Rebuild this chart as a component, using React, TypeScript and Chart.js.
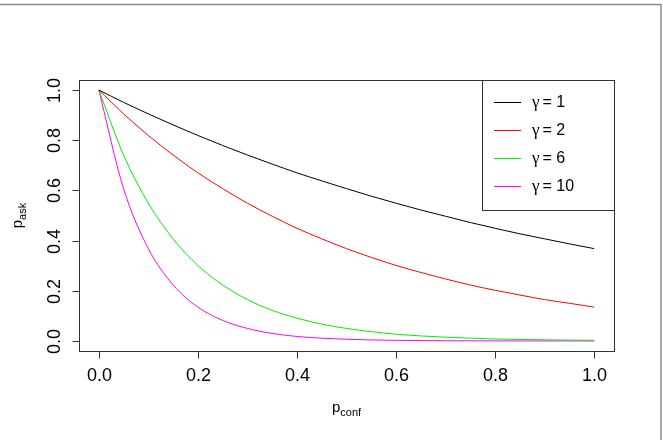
import { useEffect, useRef } from "react";
import { Chart, registerables } from "chart.js";

Chart.register(...registerables);

// Sample positions along p_conf
const pConf = [0, 0.05, 0.1, 0.15, 0.2, 0.25, 0.3, 0.35, 0.4, 0.45, 0.5, 0.55, 0.6, 0.65, 0.7, 0.75, 0.8, 0.85, 0.9, 0.95, 1.0];

// p_ask for each gamma
const askGamma1 = [1, 0.951, 0.905, 0.861, 0.819, 0.779, 0.741, 0.705, 0.670, 0.638, 0.607, 0.577, 0.549, 0.522, 0.497, 0.472, 0.449, 0.427, 0.407, 0.387, 0.368];
const askGamma2 = [1, 0.905, 0.819, 0.741, 0.670, 0.607, 0.549, 0.497, 0.449, 0.407, 0.368, 0.333, 0.301, 0.273, 0.247, 0.223, 0.202, 0.183, 0.165, 0.150, 0.135];
const askGamma6 = [1, 0.741, 0.549, 0.407, 0.301, 0.223, 0.165, 0.122, 0.091, 0.067, 0.050, 0.037, 0.027, 0.020, 0.015, 0.011, 0.008, 0.006, 0.0045, 0.0033, 0.0025];
const askGamma10 = [1, 0.607, 0.368, 0.223, 0.135, 0.082, 0.050, 0.030, 0.018, 0.011, 0.0067, 0.0041, 0.0025, 0.0015, 0.0009, 0.0006, 0.0003, 0.0002, 0.0001, 0.0001, 0.00005];

const gammaLabels = ["1", "2", "6", "10"];
const seriesColors = ["#000000", "#FF0000", "#00EE00", "#FF00FF"];

const xTicks = [0, 0.2, 0.4, 0.6, 0.8, 1.0];
const yTicks = [0, 0.2, 0.4, 0.6, 0.8, 1.0];

const FONT = "'Liberation Sans', Arial, Helvetica, sans-serif";
const SYMBOL_FONT = "'Liberation Serif', 'DejaVu Serif', serif";

function drawSubscripted(
  ctx: CanvasRenderingContext2D,
  base: string,
  sub: string,
  x: number,
  y: number,
  rotate: boolean
) {
  ctx.save();
  ctx.translate(x, y);
  if (rotate) ctx.rotate(-Math.PI / 2);
  const baseFont = `15px ${FONT}`;
  const subFont = `11px ${FONT}`;
  ctx.font = baseFont;
  const wb = ctx.measureText(base).width;
  ctx.font = subFont;
  const ws = ctx.measureText(sub).width;
  const total = wb + ws;
  ctx.textBaseline = "alphabetic";
  ctx.textAlign = "left";
  ctx.fillStyle = "#000";
  ctx.font = baseFont;
  ctx.fillText(base, -total / 2, 0);
  ctx.font = subFont;
  ctx.fillText(sub, -total / 2 + wb, 4);
  ctx.restore();
}

const rAxesPlugin = {
  id: "rAxes",
  afterDraw(chart: any) {
    const ctx: CanvasRenderingContext2D = chart.ctx;
    const xs = chart.scales.x;
    const ys = chart.scales.y;
    const area = chart.chartArea;

    ctx.save();
    // frame lines at the image edge
    ctx.strokeStyle = "#8a8a8a";
    ctx.lineWidth = 1.5;
    ctx.beginPath();
    ctx.moveTo(0, 4.5);
    ctx.lineTo(661, 4.5);
    ctx.lineTo(661, 440);
    ctx.stroke();

    // plot box
    ctx.strokeStyle = "#333";
    ctx.lineWidth = 1;
    ctx.strokeRect(Math.round(area.left) + 0.5, Math.round(area.top) + 0.5, Math.round(area.right - area.left), Math.round(area.bottom - area.top));

    // x axis ticks and labels
    ctx.fillStyle = "#000";
    ctx.font = `18px ${FONT}`;
    ctx.textAlign = "center";
    ctx.textBaseline = "middle";
    const xb = Math.round(area.bottom) + 0.5;
    for (const v of xTicks) {
      const px = Math.round(xs.getPixelForValue(v)) + 0.5;
      ctx.beginPath();
      ctx.moveTo(px, xb);
      ctx.lineTo(px, xb + 7);
      ctx.stroke();
      ctx.fillText(v.toFixed(1), px, xb + 25);
    }

    // y axis ticks and labels (rotated)
    const yl = Math.round(area.left) + 0.5;
    for (const v of yTicks) {
      const py = Math.round(ys.getPixelForValue(v)) + 0.5;
      ctx.beginPath();
      ctx.moveTo(yl, py);
      ctx.lineTo(yl - 7, py);
      ctx.stroke();
      ctx.save();
      ctx.translate(yl - 24, py);
      ctx.rotate(-Math.PI / 2);
      ctx.fillText(v.toFixed(1), 0, 0);
      ctx.restore();
    }

    // axis titles
    const cx = (area.left + area.right) / 2;
    drawSubscripted(ctx, "p", "conf", cx, 412, false);
    const cy = (area.top + area.bottom) / 2;
    drawSubscripted(ctx, "p", "ask", 22, cy, true);

    // legend
    const lx0 = 482.5;
    const ly0 = Math.round(area.top) + 0.5;
    ctx.strokeStyle = "#333";
    ctx.strokeRect(lx0, ly0, Math.round(area.right) - 482, 130);
    ctx.textAlign = "left";
    ctx.textBaseline = "middle";
    chart.data.datasets.forEach((ds: any, i: number) => {
      const y = ly0 + 22 + i * 28;
      ctx.strokeStyle = ds.borderColor;
      ctx.lineWidth = 1;
      ctx.beginPath();
      ctx.moveTo(494, y);
      ctx.lineTo(521, y);
      ctx.stroke();
      ctx.fillStyle = "#000";
      ctx.font = `17px ${SYMBOL_FONT}`;
      ctx.fillText("\u03B3", 532, y);
      const gw = ctx.measureText("\u03B3").width;
      ctx.font = `16px ${FONT}`;
      ctx.fillText("= " + gammaLabels[i], 532 + gw + 3, y);
    });
    ctx.restore();
  },
};

export default function App() {
  const canvasRef = useRef<HTMLCanvasElement | null>(null);

  useEffect(() => {
    if (!canvasRef.current) return;
    const datasets = [askGamma1, askGamma2, askGamma6, askGamma10].map((vals, i) => ({
      label: "\u03B3 = " + gammaLabels[i],
      data: pConf.map((x, j) => ({ x, y: vals[j] })),
      borderColor: seriesColors[i],
      borderWidth: 1,
      pointRadius: 0,
      fill: false,
      cubicInterpolationMode: "monotone" as const,
    }));
    const chart = new Chart(canvasRef.current, {
      type: "line",
      data: { datasets },
      options: {
        responsive: false,
        animation: false,
        devicePixelRatio: 1,
        layout: { padding: { left: 79, top: 80, right: 49, bottom: 89 } },
        plugins: { legend: { display: false }, tooltip: { enabled: false } },
        scales: {
          x: { type: "linear", min: -0.04, max: 1.04, display: false },
          y: { type: "linear", min: -0.04, max: 1.04, display: false },
        },
      },
      plugins: [rAxesPlugin],
    });
    return () => chart.destroy();
  }, []);

  return (
    <div style={{ position: "absolute", left: 0, top: 0, width: 663, height: 440, background: "#fff" }}>
      <canvas ref={canvasRef} width={663} height={440} style={{ width: 663, height: 440, display: "block" }} />
    </div>
  );
}
